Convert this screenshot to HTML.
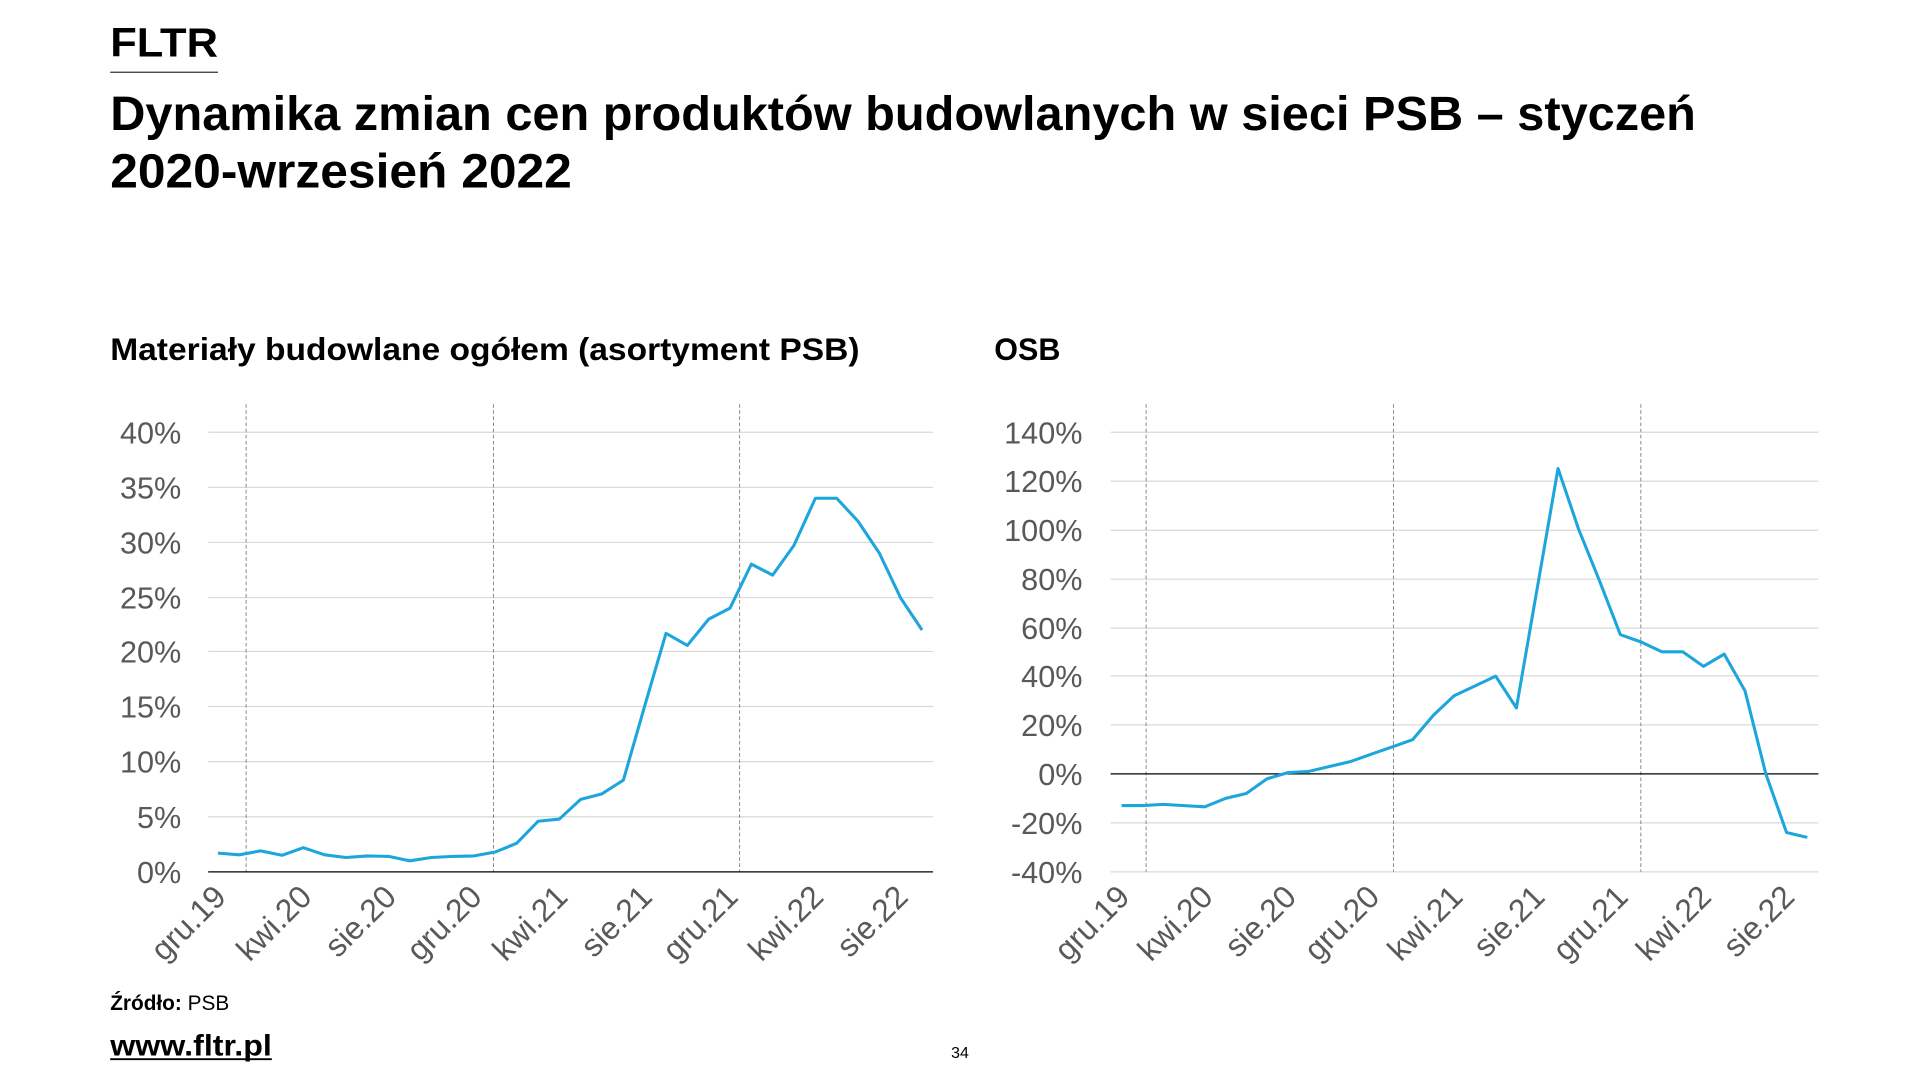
<!DOCTYPE html>
<html><head><meta charset="utf-8"><style>
html,body{margin:0;padding:0;background:#fff;}
svg{display:block;}
</style></head><body>
<svg width="1920" height="1080" viewBox="0 0 1568 882" xmlns="http://www.w3.org/2000/svg">
<g font-family="Liberation Sans, sans-serif">
<text x="90" y="46" font-size="33" font-weight="bold" fill="#000" textLength="88" lengthAdjust="spacingAndGlyphs">FLTR</text>
<line x1="90" y1="59" x2="178" y2="59" stroke="#333" stroke-width="1"/>
<text x="90" y="106" font-size="39" font-weight="bold" fill="#000" textLength="1295" lengthAdjust="spacingAndGlyphs">Dynamika zmian cen produktów budowlanych w sieci PSB – styczeń</text>
<text x="90" y="153" font-size="39" font-weight="bold" fill="#000" textLength="377" lengthAdjust="spacingAndGlyphs">2020-wrzesień 2022</text>
<text x="90" y="294" font-size="26" font-weight="bold" fill="#000" textLength="612" lengthAdjust="spacingAndGlyphs">Materiały budowlane ogółem (asortyment PSB)</text>
<text x="812" y="294" font-size="26" font-weight="bold" fill="#000" textLength="54" lengthAdjust="spacingAndGlyphs">OSB</text>

<!-- Left chart -->
<g stroke="#d9d9d9" stroke-width="1">
<line x1="170" y1="353" x2="762" y2="353"/><line x1="170" y1="398" x2="762" y2="398"/><line x1="170" y1="443" x2="762" y2="443"/><line x1="170" y1="488" x2="762" y2="488"/><line x1="170" y1="532" x2="762" y2="532"/><line x1="170" y1="577" x2="762" y2="577"/><line x1="170" y1="622" x2="762" y2="622"/><line x1="170" y1="667" x2="762" y2="667"/>
</g>
<g stroke="#888" stroke-width="0.8" stroke-dasharray="3,2">
<line x1="201" y1="330" x2="201" y2="712"/><line x1="403" y1="330" x2="403" y2="712"/><line x1="604" y1="330" x2="604" y2="712"/>
</g>
<line x1="170" y1="712" x2="762" y2="712" stroke="#000" stroke-width="1"/>
<g font-size="25" fill="#595959" text-anchor="end">
<text x="148" y="362">40%</text><text x="148" y="407">35%</text><text x="148" y="452">30%</text><text x="148" y="497">25%</text><text x="148" y="541">20%</text><text x="148" y="586">15%</text><text x="148" y="631">10%</text><text x="148" y="676">5%</text><text x="148" y="721">0%</text>
</g>
<polyline fill="none" stroke="#1ca6db" stroke-width="2.5" stroke-linejoin="round" points="178,696.7 195.4,698.1 212.8,694.9 230.3,698.5 247.7,692.3 265.1,698.1 282.5,700.3 300,699 317.4,699.4 334.8,703 352.2,700.3 369.7,699.4 387.1,699 404.5,695.8 421.9,688.7 439.4,670.7 456.8,668.9 474.2,652.8 491.6,648.3 509.1,637.1 526.5,576.5 543.9,517.2 561.3,527.1 578.8,505.6 596.2,496.6 613.6,460.7 631,469.7 648.4,445.4 665.9,406.9 683.3,406.9 700.7,425.7 718.1,451.7 735.6,488.5 753,514.5"/>
<g font-size="26" fill="#595959" text-anchor="end">
<text transform="translate(186,734) rotate(-45)">gru.19</text>
<text transform="translate(256,734) rotate(-45)">kwi.20</text>
<text transform="translate(325,734) rotate(-45)">sie.20</text>
<text transform="translate(395,734) rotate(-45)">gru.20</text>
<text transform="translate(465,734) rotate(-45)">kwi.21</text>
<text transform="translate(534,734) rotate(-45)">sie.21</text>
<text transform="translate(604,734) rotate(-45)">gru.21</text>
<text transform="translate(674,734) rotate(-45)">kwi.22</text>
<text transform="translate(743,734) rotate(-45)">sie.22</text>
</g>

<!-- Right chart -->
<g stroke="#d9d9d9" stroke-width="1">
<line x1="907" y1="353" x2="1485" y2="353"/><line x1="907" y1="393" x2="1485" y2="393"/><line x1="907" y1="433" x2="1485" y2="433"/><line x1="907" y1="473" x2="1485" y2="473"/><line x1="907" y1="513" x2="1485" y2="513"/><line x1="907" y1="552" x2="1485" y2="552"/><line x1="907" y1="592" x2="1485" y2="592"/><line x1="907" y1="672" x2="1485" y2="672"/><line x1="907" y1="712" x2="1485" y2="712"/>
</g>
<g stroke="#888" stroke-width="0.8" stroke-dasharray="3,2">
<line x1="936" y1="330" x2="936" y2="712"/><line x1="1138" y1="330" x2="1138" y2="712"/><line x1="1340" y1="330" x2="1340" y2="712"/>
</g>
<line x1="907" y1="632" x2="1485" y2="632" stroke="#000" stroke-width="1"/>
<g font-size="25" fill="#595959" text-anchor="end">
<text x="884" y="362">140%</text><text x="884" y="402">120%</text><text x="884" y="442">100%</text><text x="884" y="482">80%</text><text x="884" y="522">60%</text><text x="884" y="561">40%</text><text x="884" y="601">20%</text><text x="884" y="641">0%</text><text x="884" y="681">-20%</text><text x="884" y="721">-40%</text>
</g>
<polyline fill="none" stroke="#1ca6db" stroke-width="2.5" stroke-linejoin="round" points="916,657.9 933,657.9 949.9,656.9 966.9,657.9 983.9,658.9 1000.9,652 1017.8,648 1034.8,636 1051.8,631 1068.7,630 1085.7,626 1102.7,622 1119.6,616 1136.6,610.1 1153.6,604.1 1170.6,584.1 1187.5,568.2 1204.5,560.2 1221.5,552.2 1238.4,578.1 1255.4,480.4 1272.4,382.6 1289.3,432.5 1306.3,474.4 1323.3,518.3 1340.3,524.3 1357.2,532.3 1374.2,532.3 1391.2,544.2 1408.1,534.2 1425.1,564.2 1442.1,632 1459,679.9 1476,683.9"/>
<g font-size="26" fill="#595959" text-anchor="end">
<text transform="translate(924,734) rotate(-45)">gru.19</text>
<text transform="translate(992,734) rotate(-45)">kwi.20</text>
<text transform="translate(1060,734) rotate(-45)">sie.20</text>
<text transform="translate(1128,734) rotate(-45)">gru.20</text>
<text transform="translate(1196,734) rotate(-45)">kwi.21</text>
<text transform="translate(1263,734) rotate(-45)">sie.21</text>
<text transform="translate(1331,734) rotate(-45)">gru.21</text>
<text transform="translate(1399,734) rotate(-45)">kwi.22</text>
<text transform="translate(1467,734) rotate(-45)">sie.22</text>
</g>

<text x="90" y="825" font-size="17" fill="#000"><tspan font-weight="bold">Źródło:</tspan> PSB</text>
<text x="90" y="862" font-size="24" font-weight="bold" fill="#000" textLength="132" lengthAdjust="spacingAndGlyphs">www.fltr.pl</text>
<line x1="90" y1="865" x2="222" y2="865" stroke="#000" stroke-width="1.5"/>
<text x="784" y="864" font-size="13" fill="#000" text-anchor="middle">34</text>
</g>
</svg>
</body></html>
